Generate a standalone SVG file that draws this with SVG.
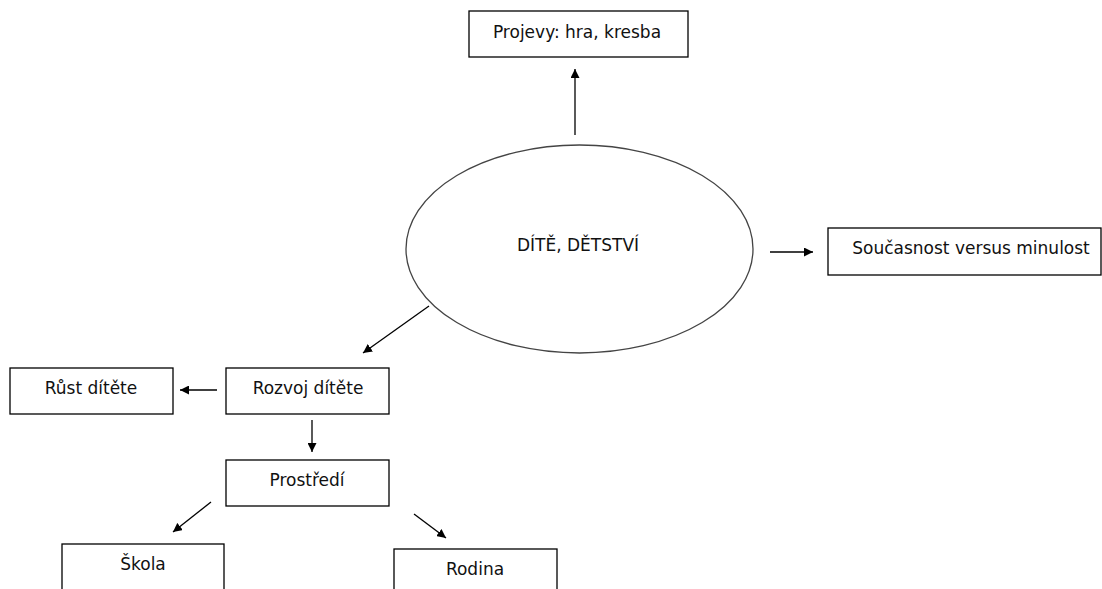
<svg xmlns="http://www.w3.org/2000/svg" width="1102" height="589" viewBox="0 0 1102 589">
<style>
.box{fill:#fff;stroke:#000;stroke-width:1.3}
.t{font-family:"DejaVu Sans","Liberation Sans",sans-serif;font-size:17px;fill:#111;text-anchor:middle}
.c{stroke:#000;stroke-width:1.3;fill:none;marker-end:url(#ah)}
</style>
<defs>
<marker id="ah" viewBox="0 0 10 10" refX="10" refY="5" markerWidth="9" markerHeight="9" markerUnits="userSpaceOnUse" orient="auto">
<path d="M0,0 L10,5 L0,10 z" fill="#000"/>
</marker>
</defs>
<rect width="1102" height="589" fill="#fff"/>
<g id="connectors">
<line class="c" x1="575" y1="135" x2="575" y2="69"/>
<line class="c" x1="770" y1="252" x2="813" y2="252"/>
<line class="c" x1="429" y1="306" x2="363" y2="353"/>
<line class="c" x1="217" y1="390" x2="180" y2="390"/>
<line class="c" x1="312" y1="420" x2="312" y2="452"/>
<line class="c" x1="211" y1="502" x2="173" y2="532"/>
<line class="c" x1="414" y1="514" x2="446" y2="538"/>
</g>
<g id="projevy">
<rect class="box" x="469" y="11" width="219" height="46"/>
<text class="t" x="577" y="38">Projevy: hra, kresba</text>
</g>
<g id="dite">
<ellipse fill="#fff" stroke="#444" stroke-width="1.3" cx="579.5" cy="249" rx="173.5" ry="104"/>
<text class="t" x="578" y="251">DÍTĚ, DĚTSTVÍ</text>
</g>
<g id="soucasnost">
<rect class="box" x="828" y="228" width="273" height="47"/>
<text class="t" x="971" y="254">Současnost versus minulost</text>
</g>
<g id="rust">
<rect class="box" x="10" y="368" width="163" height="46"/>
<text class="t" x="91" y="394">Růst dítěte</text>
</g>
<g id="rozvoj">
<rect class="box" x="226" y="368" width="163" height="46"/>
<text class="t" x="308" y="394">Rozvoj dítěte</text>
</g>
<g id="prostredi">
<rect class="box" x="226" y="460" width="163" height="46"/>
<text class="t" x="307" y="486">Prostředí</text>
</g>
<g id="skola">
<rect class="box" x="62" y="544" width="162" height="60"/>
<text class="t" x="143" y="570">Škola</text>
</g>
<g id="rodina">
<rect class="box" x="394" y="549" width="163" height="60"/>
<text class="t" x="475" y="575">Rodina</text>
</g>
</svg>
